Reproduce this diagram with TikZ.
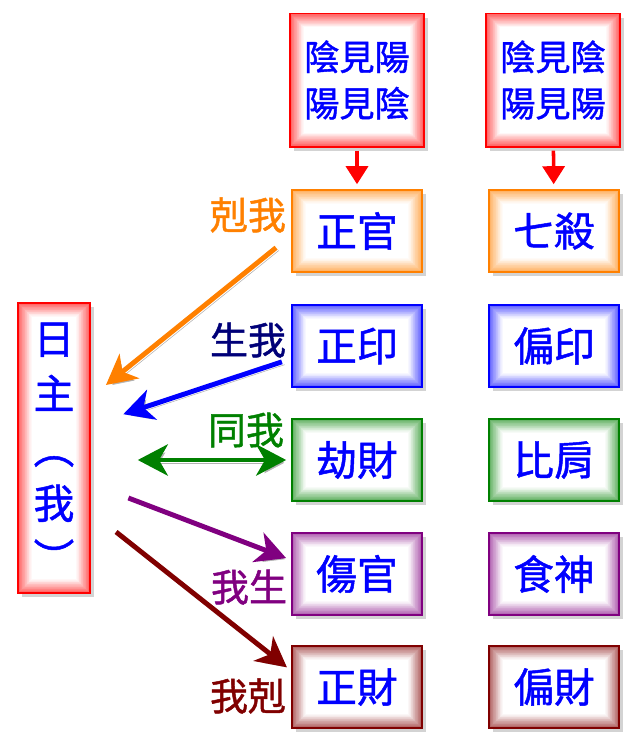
\documentclass[tikz,border=0pt]{standalone}
\usepackage{fontspec}
\newfontfamily\cjk[FakeBold=1.2]{Noto Sans CJK TC}
\usetikzlibrary{arrows.meta,shadows}
\definecolor{kewo}{RGB}{255,128,0}
\definecolor{shengwo}{RGB}{0,0,255}
\definecolor{shengwotxt}{RGB}{0,0,120}
\definecolor{tongwo}{RGB}{0,128,0}
\definecolor{wosheng}{RGB}{128,0,128}
\definecolor{woke}{RGB}{128,0,0}
\tikzset{
	glow/.style={draw=#1, line width=1.4pt, fill=white, text=blue, inner sep=0pt,
		drop shadow={shadow xshift=3pt, shadow yshift=-3pt, opacity=0.35},
		path picture={
			\foreach \i [evaluate=\i as \pct using int(66-3.3*\i)] in {1,...,20}
				\draw[#1!\pct, line width=0.7pt]
					([shift={(\i*0.5pt,-\i*0.5pt)}]path picture bounding box.north west) rectangle
					([shift={(-\i*0.5pt,\i*0.5pt)}]path picture bounding box.south east);
		}},
	shi/.style={glow=#1, minimum width=3.25cm, minimum height=2.05cm, font=\cjk\fontsize{29}{35}\selectfont},
	yinyang/.style={glow=red, minimum width=3.35cm, minimum height=3.325cm, align=center, font=\cjk\fontsize{25}{33}\selectfont},
	rel/.style={text=#1, font=\cjk\fontsize{27}{30}\selectfont},
	arr/.style={draw=#1, line width=3.5pt, -{Stealth[length=0.75cm,width=0.78cm,inset=0.22cm]},
		preaction={draw=black!30, transform canvas={shift={(2pt,-2pt)}}}},
	yyarr/.style={draw=red, line width=2.5pt, -{Triangle[length=0.45cm,width=0.55cm]},
		shorten >=0.12cm, shorten <=0.08cm}
}

\begin{document}
\begin{tikzpicture}[x=0.025cm, y=-0.025cm]
	\useasboundingbox (0,0) rectangle (640,738);
	% day master
	\node[glow=red, minimum width=1.8cm, minimum height=7.25cm, align=center,
		font=\cjk\fontsize{29}{39}\selectfont] (rizhu) at (54,448) {日\\主\\︵\\我\\︶};
	% yin / yang
	\node[yinyang] (yy1) at (357,80) {陰見陽\\陽見陰};
	\node[yinyang] (yy2) at (553,80) {陰見陰\\陽見陽};
	% ten gods, left and right column
	\node[shi=kewo] (zhengguan) at (357,231) {正官};
	\node[shi=shengwo] (zhengyin) at (357,346) {正印};
	\node[shi=tongwo] (jiecai) at (357,460) {劫財};
	\node[shi=wosheng] (shangguan) at (357,574) {傷官};
	\node[shi=woke] (zhengcai) at (357,687) {正財};
	\node[shi=kewo] (qisha) at (554,231) {七殺};
	\node[shi=shengwo] (pianyin) at (554,346) {偏印};
	\node[shi=tongwo] (bijian) at (554,460) {比肩};
	\node[shi=wosheng] (shishen) at (554,574) {食神};
	\node[shi=woke] (piancai) at (554,687) {偏財};
	\draw[yyarr] (yy1) -- (zhengguan);
	\draw[yyarr] (yy2) -- (qisha);
	% relations
	\node[rel=kewo] (kewo-lbl) at (248,215) {剋我};
	\node[rel=shengwotxt] (shengwo-lbl) at (248,340) {生我};
	\node[rel=tongwo] (tongwo-lbl) at (246,430) {同我};
	\node[rel=wosheng] (wosheng-lbl) at (249,587) {我生};
	\node[rel=woke] (woke-lbl) at (248,696) {我剋};
	\draw[arr=kewo, shorten <=0.48cm, shorten >=0.48cm] (zhengguan.184) -- (rizhu.54);
	\draw[arr=shengwo, shorten <=0.24cm, shorten >=0.85cm] (zhengyin.191) -- (rizhu.32);
	\draw[arr=tongwo, {Stealth[length=0.75cm,width=0.78cm,inset=0.22cm]}-{Stealth[length=0.75cm,width=0.78cm,inset=0.22cm]},
		shorten <=0.12cm, shorten >=1.17cm] (jiecai.west) -- (jiecai.west -| rizhu.east);
	\draw[arr=wosheng, shorten <=1.0cm, shorten >=0.13cm] (rizhu.-44) -- (shangguan.168);
	\draw[arr=woke, shorten <=0.8cm, shorten >=0.13cm] (rizhu.-60) -- (zhengcai.166);
\end{tikzpicture}
\end{document}
